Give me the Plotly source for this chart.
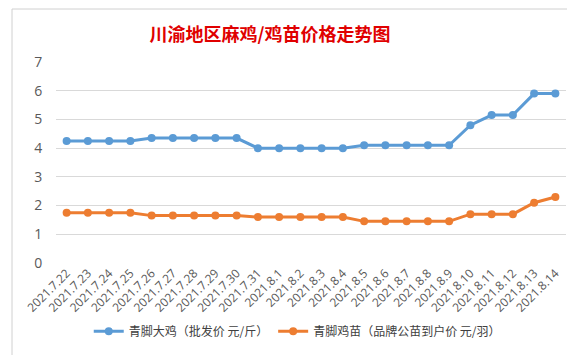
import plotly.graph_objects as go

dates = ["2021.7.22","2021.7.23","2021.7.24","2021.7.25","2021.7.26","2021.7.27","2021.7.28",
         "2021.7.29","2021.7.30","2021.7.31","2021.8.1","2021.8.2","2021.8.3","2021.8.4",
         "2021.8.5","2021.8.6","2021.8.7","2021.8.8","2021.8.9","2021.8.10","2021.8.11",
         "2021.8.12","2021.8.13","2021.8.14"]
big_chicken = [4.25,4.25,4.25,4.25,4.35,4.35,4.35,4.35,4.35,4.0,4.0,4.0,4.0,4.0,
               4.1,4.1,4.1,4.1,4.1,4.8,5.15,5.15,5.9,5.9]
chick = [1.75,1.75,1.75,1.75,1.65,1.65,1.65,1.65,1.65,1.6,1.6,1.6,1.6,1.6,
         1.45,1.45,1.45,1.45,1.45,1.7,1.7,1.7,2.1,2.3]
name_big = "青脚大鸡（批发价 元/斤）"
name_chick = "青脚鸡苗（品牌公苗到户价 元/羽）"
title_text = "川渝地区麻鸡/鸡苗价格走势图"

font_family = "Noto Sans CJK SC, Microsoft YaHei, sans-serif"
num_font = "Open Sans, Noto Sans, sans-serif"

fig = go.Figure()
fig.add_trace(go.Scatter(x=dates, y=big_chicken, name=name_big, mode="lines+markers",
                         line=dict(color="#5B9BD5", width=3),
                         marker=dict(color="#5B9BD5", size=8)))
fig.add_trace(go.Scatter(x=dates, y=chick, name=name_chick, mode="lines+markers",
                         line=dict(color="#ED7D31", width=3),
                         marker=dict(color="#ED7D31", size=8)))

fig.update_layout(
    width=575, height=355,
    margin=dict(l=48, r=17, t=54, b=100),
    paper_bgcolor="white", plot_bgcolor="white",
    font=dict(family=font_family, color="#595959", size=12),
    title=dict(text="<b>" + title_text + "</b>", x=262/575, xanchor="center",
               y=1 - 27/355, yanchor="middle",
               font=dict(family=font_family, size=18, color="#E00000")),
    showlegend=True,
    legend=dict(orientation="h", x=272/575, xanchor="center", y=-0.34, yanchor="middle",
                font=dict(size=12, color="#404040"), itemwidth=30),
    xaxis=dict(type="category", tickangle=-45, showgrid=False, showline=False,
               tickfont=dict(family=num_font, size=12, color="#595959"), ticks="",
               range=[-0.5, len(dates) - 0.5]),
    yaxis=dict(range=[0, 7], dtick=1, showgrid=True, gridcolor="#D9D9D9", gridwidth=1,
               zeroline=False, showline=False, ticks="outside", ticklen=10,
               tickcolor="rgba(0,0,0,0)",
               tickfont=dict(family=num_font, size=14, color="#595959")),
)
fig.add_shape(type="rect", xref="paper", yref="paper",
              x0=-44/510, x1=1 + 10/510, y0=-96/201, y1=1 + 53/201,
              line=dict(color="#D0D0D0", width=1), fillcolor="rgba(0,0,0,0)")

fig.write_html("out.html")
